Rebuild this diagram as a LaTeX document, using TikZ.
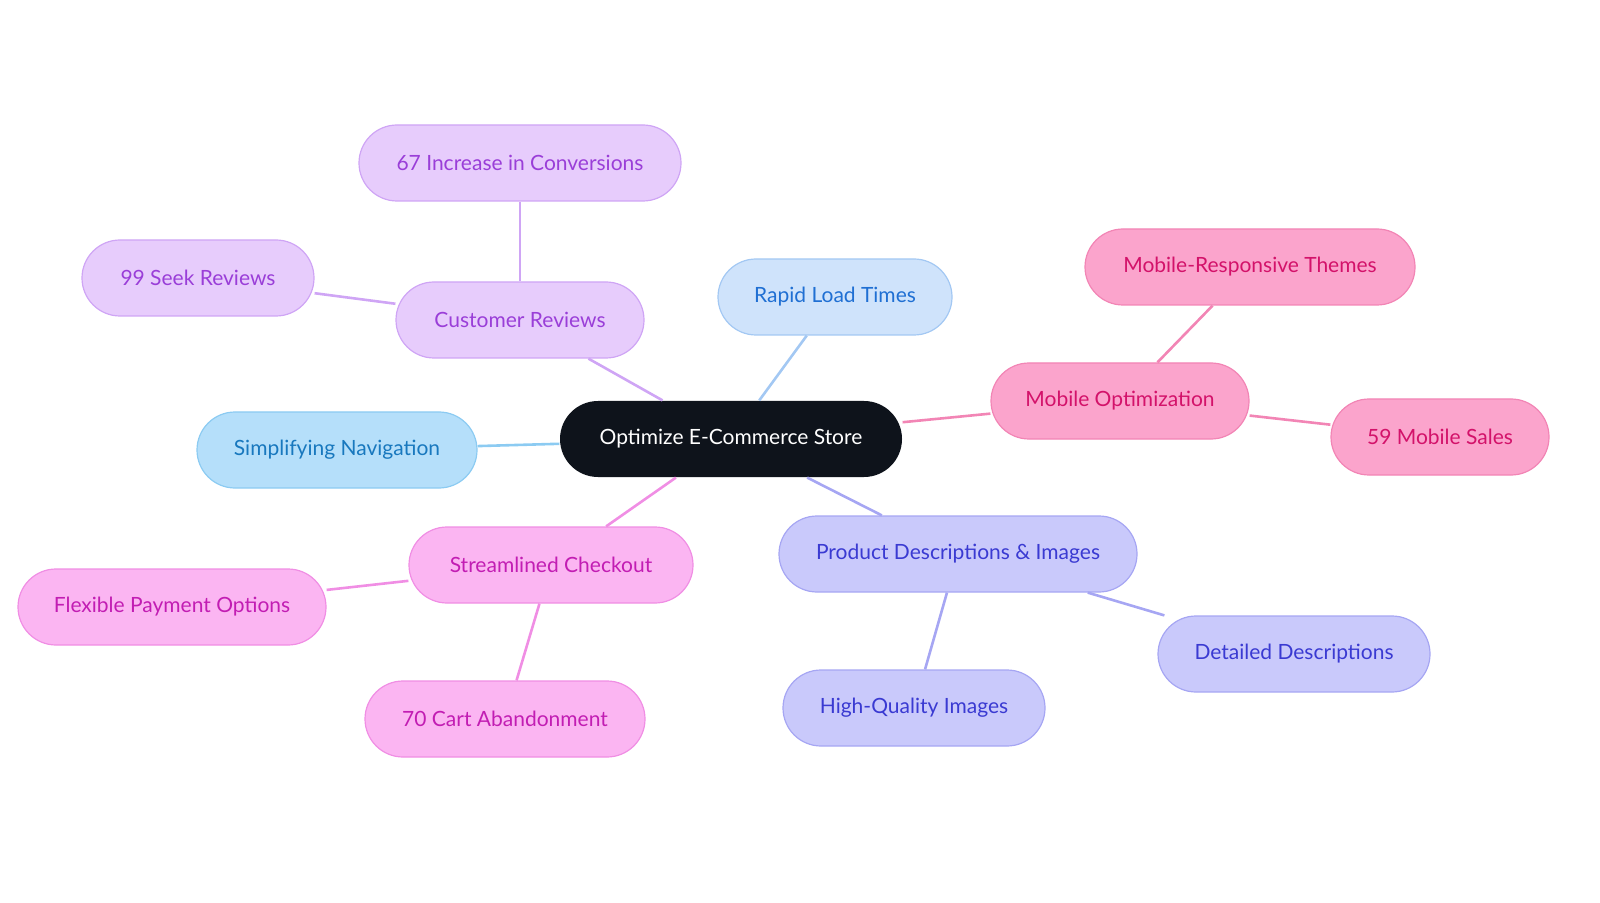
\documentclass[tikz,border=0pt]{standalone}
\usepackage{fontspec}
\setmainfont{Lato}
\definecolor{rootf}{HTML}{0E131B}
\definecolor{bluef}{HTML}{CFE3FB}\definecolor{bluel}{HTML}{A3C8F3}\definecolor{bluet}{HTML}{1F6FD3}
\definecolor{skyf}{HTML}{B5DFFA}\definecolor{skyl}{HTML}{8CCBF2}\definecolor{skyt}{HTML}{1878BE}
\definecolor{purf}{HTML}{E7CCFC}\definecolor{purl}{HTML}{CFA5F5}\definecolor{purt}{HTML}{9A3ED8}
\definecolor{pinkf}{HTML}{FBA4CC}\definecolor{pinkl}{HTML}{F285B5}\definecolor{pinkt}{HTML}{D3126A}
\definecolor{indf}{HTML}{C9C9FB}\definecolor{indl}{HTML}{A6A6F3}\definecolor{indt}{HTML}{3A3AD2}
\definecolor{magf}{HTML}{FBB5F2}\definecolor{magl}{HTML}{F08EE4}\definecolor{magt}{HTML}{C21DB3}
\tikzset{
 n/.style={rounded corners=19pt,minimum height=38pt,inner sep=0pt,font=\fontsize{10.5}{12}\selectfont,line width=0.6pt},
 blue/.style={n,fill=bluef,draw=bluel,text=bluet},
 sky/.style={n,fill=skyf,draw=skyl,text=skyt},
 pur/.style={n,fill=purf,draw=purl,text=purt},
 pink/.style={n,fill=pinkf,draw=pinkl,text=pinkt},
 ind/.style={n,fill=indf,draw=indl,text=indt},
 mag/.style={n,fill=magf,draw=magl,text=magt},
 e/.style={line width=1.3pt}
}
\begin{document}
\begin{tikzpicture}[x=0.5pt,y=-0.5pt]
\useasboundingbox (0,0) rectangle (1600,903);
\node[n,fill=rootf,text=white,minimum width=171pt] (root) at (731,439) {Optimize E-Commerce Store};
\node[blue,minimum width=117pt] (rapid) at (835,297) {Rapid Load Times};
\node[sky,minimum width=140pt] (nav) at (337,450) {Simplifying Navigation};
\node[pur,minimum width=124pt] (cr) at (520,320) {Customer Reviews};
\node[pur,minimum width=161pt] (c67) at (520,163) {67 Increase in Conversions};
\node[pur,minimum width=116pt] (c99) at (198,278) {99 Seek Reviews};
\node[pink,minimum width=129pt] (mo) at (1120,401) {Mobile Optimization};
\node[pink,minimum width=165pt] (mrt) at (1250,267) {Mobile-Responsive Themes};
\node[pink,minimum width=109pt] (m59) at (1440,437) {59 Mobile Sales};
\node[ind,minimum width=179pt] (pd) at (958,554) {Product Descriptions \& Images};
\node[ind,minimum width=136pt] (dd) at (1294,654) {Detailed Descriptions};
\node[ind,minimum width=131pt] (hq) at (914,708) {High-Quality Images};
\node[mag,minimum width=142pt] (sc) at (551,565) {Streamlined Checkout};
\node[mag,minimum width=154pt] (fp) at (172,607) {Flexible Payment Options};
\node[mag,minimum width=140pt] (c70) at (505,719) {70 Cart Abandonment};
\draw[e,bluel] (root) -- (rapid);
\draw[e,skyl] (root) -- (nav);
\draw[e,purl] (root) -- (cr);
\draw[e,purl] (cr) -- (c67);
\draw[e,purl] (cr) -- (c99);
\draw[e,pinkl] (root) -- (mo);
\draw[e,pinkl] (mo) -- (mrt);
\draw[e,pinkl] (mo) -- (m59);
\draw[e,indl] (root) -- (pd);
\draw[e,indl] (pd) -- (dd);
\draw[e,indl] (pd) -- (hq);
\draw[e,magl] (root) -- (sc);
\draw[e,magl] (sc) -- (fp);
\draw[e,magl] (sc) -- (c70);
\end{tikzpicture}
\end{document}
